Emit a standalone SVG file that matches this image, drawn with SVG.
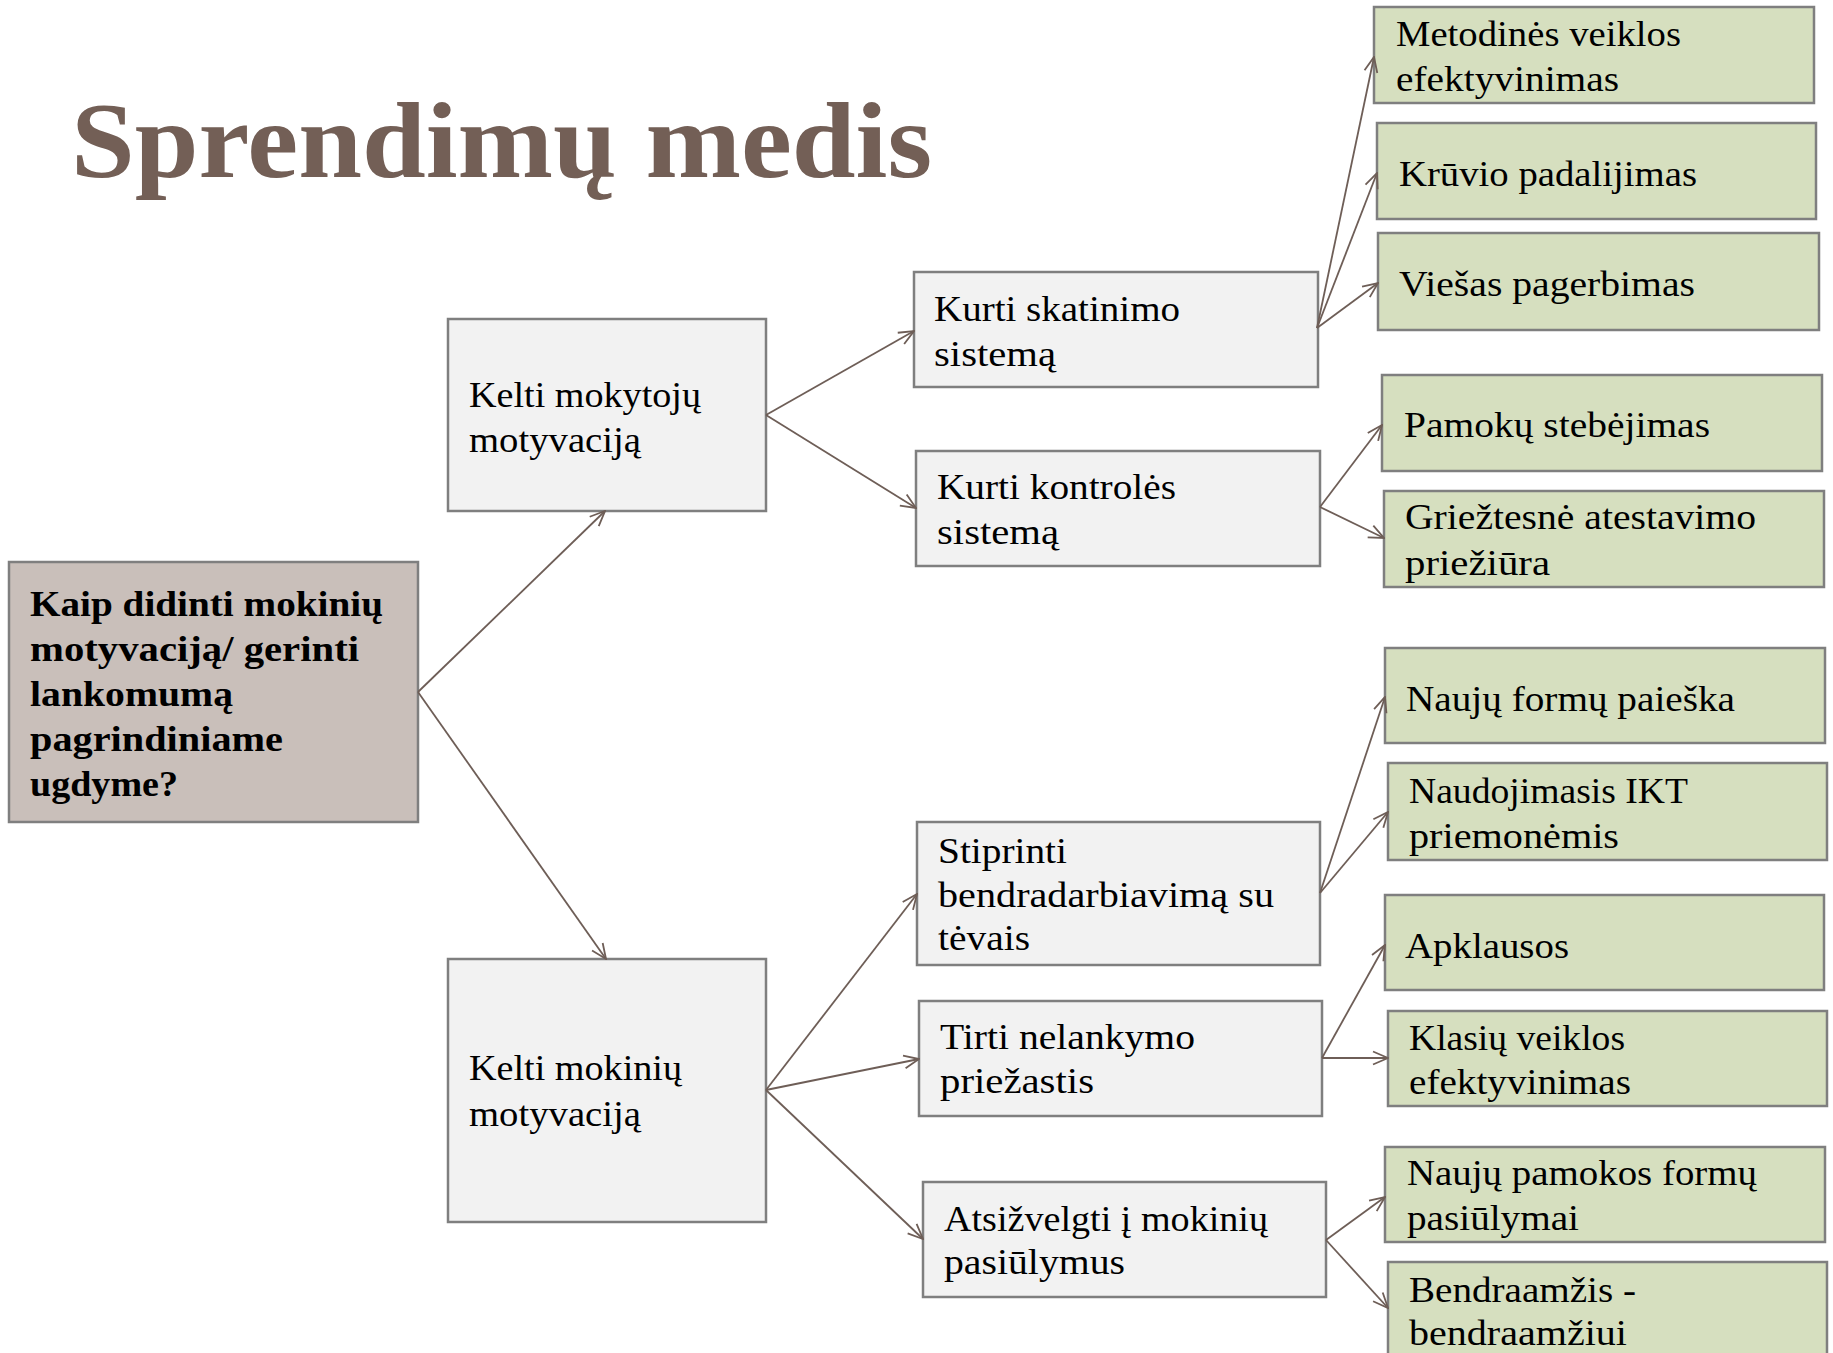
<svg xmlns="http://www.w3.org/2000/svg" width="1833" height="1353" viewBox="0 0 1833 1353">
<style>
.t{font-family:"Liberation Serif","Times New Roman",serif;font-size:36px;fill:#000}
.b{font-family:"Liberation Serif","Times New Roman",serif;font-size:36px;font-weight:bold;fill:#000}
.title{font-family:"Liberation Serif","Times New Roman",serif;font-size:108px;font-weight:bold;fill:#735F56}
.g{fill:#F2F2F2;stroke:#7F7F7F;stroke-width:2.5}
.n{fill:#D6DFBF;stroke:#7F7F7F;stroke-width:2.5}
.r{fill:#C9BFBA;stroke:#7F7F7F;stroke-width:2.5}
.c line{stroke:#6E5E57;stroke-width:1.8;fill:none}
</style>
<defs>
<marker id="ah" markerUnits="userSpaceOnUse" viewBox="0 0 17 16" refX="16" refY="8" markerWidth="17" markerHeight="16" orient="auto">
<path d="M1,1.5 L16,8 L1,14.5" fill="none" stroke="#6E5E57" stroke-width="1.8"/>
</marker>
</defs>
<rect width="1833" height="1353" fill="#FFFFFF"/>
<text class="title" x="71" y="177" textLength="861" lengthAdjust="spacingAndGlyphs">Sprendimų medis</text>

<g id="root">
<rect class="r" x="9" y="562" width="409" height="260"/>
<text class="b" x="30" y="616" textLength="353" lengthAdjust="spacingAndGlyphs">Kaip didinti mokinių</text>
<text class="b" x="30" y="661" textLength="329" lengthAdjust="spacingAndGlyphs">motyvaciją/ gerinti</text>
<text class="b" x="30" y="706" textLength="203" lengthAdjust="spacingAndGlyphs">lankomumą</text>
<text class="b" x="30" y="751" textLength="253" lengthAdjust="spacingAndGlyphs">pagrindiniame</text>
<text class="b" x="30" y="796" textLength="148" lengthAdjust="spacingAndGlyphs">ugdyme?</text>
</g>

<g id="kelti-mokytoju">
<rect class="g" x="448" y="319" width="318" height="192"/>
<text class="t" x="469" y="407" textLength="232" lengthAdjust="spacingAndGlyphs">Kelti mokytojų</text>
<text class="t" x="469" y="452" textLength="172" lengthAdjust="spacingAndGlyphs">motyvaciją</text>
</g>
<g id="kurti-skatinimo">
<rect class="g" x="914" y="272" width="404" height="115"/>
<text class="t" x="934" y="321" textLength="246" lengthAdjust="spacingAndGlyphs">Kurti skatinimo</text>
<text class="t" x="934" y="366" textLength="122" lengthAdjust="spacingAndGlyphs">sistemą</text>
</g>
<g id="kurti-kontroles">
<rect class="g" x="916" y="451" width="404" height="115"/>
<text class="t" x="937" y="499" textLength="239" lengthAdjust="spacingAndGlyphs">Kurti kontrolės</text>
<text class="t" x="937" y="544" textLength="122" lengthAdjust="spacingAndGlyphs">sistemą</text>
</g>
<g id="kelti-mokiniu">
<rect class="g" x="448" y="959" width="318" height="263"/>
<text class="t" x="469" y="1080" textLength="213" lengthAdjust="spacingAndGlyphs">Kelti mokinių</text>
<text class="t" x="469" y="1126" textLength="172" lengthAdjust="spacingAndGlyphs">motyvaciją</text>
</g>
<g id="stiprinti">
<rect class="g" x="917" y="822" width="403" height="143"/>
<text class="t" x="938" y="863" textLength="129" lengthAdjust="spacingAndGlyphs">Stiprinti</text>
<text class="t" x="938" y="907" textLength="336" lengthAdjust="spacingAndGlyphs">bendradarbiavimą su</text>
<text class="t" x="938" y="950" textLength="92" lengthAdjust="spacingAndGlyphs">tėvais</text>
</g>
<g id="tirti">
<rect class="g" x="919" y="1001" width="403" height="115"/>
<text class="t" x="940" y="1049" textLength="255" lengthAdjust="spacingAndGlyphs">Tirti nelankymo</text>
<text class="t" x="940" y="1093" textLength="154" lengthAdjust="spacingAndGlyphs">priežastis</text>
</g>
<g id="atsizvelgti">
<rect class="g" x="923" y="1182" width="403" height="115"/>
<text class="t" x="944" y="1231" textLength="324" lengthAdjust="spacingAndGlyphs">Atsižvelgti į mokinių</text>
<text class="t" x="944" y="1274" textLength="181" lengthAdjust="spacingAndGlyphs">pasiūlymus</text>
</g>

<g id="metodines">
<rect class="n" x="1374" y="7" width="440" height="96"/>
<text class="t" x="1396" y="46" textLength="285" lengthAdjust="spacingAndGlyphs">Metodinės veiklos</text>
<text class="t" x="1396" y="91" textLength="223" lengthAdjust="spacingAndGlyphs">efektyvinimas</text>
</g>
<g id="kruvio">
<rect class="n" x="1377" y="123" width="439" height="96"/>
<text class="t" x="1399" y="186" textLength="298" lengthAdjust="spacingAndGlyphs">Krūvio padalijimas</text>
</g>
<g id="viesas">
<rect class="n" x="1378" y="233" width="441" height="97"/>
<text class="t" x="1399" y="296" textLength="296" lengthAdjust="spacingAndGlyphs">Viešas pagerbimas</text>
</g>
<g id="pamoku">
<rect class="n" x="1382" y="375" width="440" height="96"/>
<text class="t" x="1404" y="437" textLength="306" lengthAdjust="spacingAndGlyphs">Pamokų stebėjimas</text>
</g>
<g id="grieztesne">
<rect class="n" x="1384" y="491" width="440" height="96"/>
<text class="t" x="1405" y="529" textLength="351" lengthAdjust="spacingAndGlyphs">Griežtesnė atestavimo</text>
<text class="t" x="1405" y="575" textLength="145" lengthAdjust="spacingAndGlyphs">priežiūra</text>
</g>
<g id="nauju-formu">
<rect class="n" x="1385" y="648" width="440" height="95"/>
<text class="t" x="1406" y="711" textLength="329" lengthAdjust="spacingAndGlyphs">Naujų formų paieška</text>
</g>
<g id="naudojimasis">
<rect class="n" x="1388" y="763" width="439" height="97"/>
<text class="t" x="1409" y="803" textLength="279" lengthAdjust="spacingAndGlyphs">Naudojimasis IKT</text>
<text class="t" x="1409" y="848" textLength="210" lengthAdjust="spacingAndGlyphs">priemonėmis</text>
</g>
<g id="apklausos">
<rect class="n" x="1385" y="895" width="439" height="95"/>
<text class="t" x="1405" y="958" textLength="164" lengthAdjust="spacingAndGlyphs">Apklausos</text>
</g>
<g id="klasiu">
<rect class="n" x="1388" y="1011" width="439" height="95"/>
<text class="t" x="1409" y="1050" textLength="216" lengthAdjust="spacingAndGlyphs">Klasių veiklos</text>
<text class="t" x="1409" y="1094" textLength="222" lengthAdjust="spacingAndGlyphs">efektyvinimas</text>
</g>
<g id="nauju-pamokos">
<rect class="n" x="1385" y="1147" width="440" height="95"/>
<text class="t" x="1407" y="1185" textLength="350" lengthAdjust="spacingAndGlyphs">Naujų pamokos formų</text>
<text class="t" x="1407" y="1230" textLength="172" lengthAdjust="spacingAndGlyphs">pasiūlymai</text>
</g>
<g id="bendraamzis">
<rect class="n" x="1388" y="1262" width="439" height="100"/>
<text class="t" x="1409" y="1302" textLength="227" lengthAdjust="spacingAndGlyphs">Bendraamžis -</text>
<text class="t" x="1409" y="1345" textLength="218" lengthAdjust="spacingAndGlyphs">bendraamžiui</text>
</g>

<g id="connectors" class="c">
<line x1="418" y1="692" x2="605" y2="511" marker-end="url(#ah)"/>
<line x1="418" y1="692" x2="606" y2="959" marker-end="url(#ah)"/>
<line x1="766" y1="415" x2="914" y2="331" marker-end="url(#ah)"/>
<line x1="766" y1="415" x2="916" y2="508" marker-end="url(#ah)"/>
<line x1="1317" y1="328" x2="1374" y2="57" marker-end="url(#ah)"/>
<line x1="1317" y1="328" x2="1377" y2="173" marker-end="url(#ah)"/>
<line x1="1317" y1="328" x2="1378" y2="283" marker-end="url(#ah)"/>
<line x1="1320" y1="507" x2="1382" y2="425" marker-end="url(#ah)"/>
<line x1="1320" y1="507" x2="1384" y2="538" marker-end="url(#ah)"/>
<line x1="766" y1="1090" x2="917" y2="894" marker-end="url(#ah)"/>
<line x1="766" y1="1090" x2="919" y2="1059" marker-end="url(#ah)"/>
<line x1="766" y1="1090" x2="923" y2="1239" marker-end="url(#ah)"/>
<line x1="1320" y1="893" x2="1385" y2="697" marker-end="url(#ah)"/>
<line x1="1320" y1="893" x2="1388" y2="812" marker-end="url(#ah)"/>
<line x1="1322" y1="1058" x2="1385" y2="945" marker-end="url(#ah)"/>
<line x1="1322" y1="1058" x2="1388" y2="1058" marker-end="url(#ah)"/>
<line x1="1326" y1="1240" x2="1385" y2="1197" marker-end="url(#ah)"/>
<line x1="1326" y1="1240" x2="1388" y2="1308" marker-end="url(#ah)"/>
</g>
</svg>
